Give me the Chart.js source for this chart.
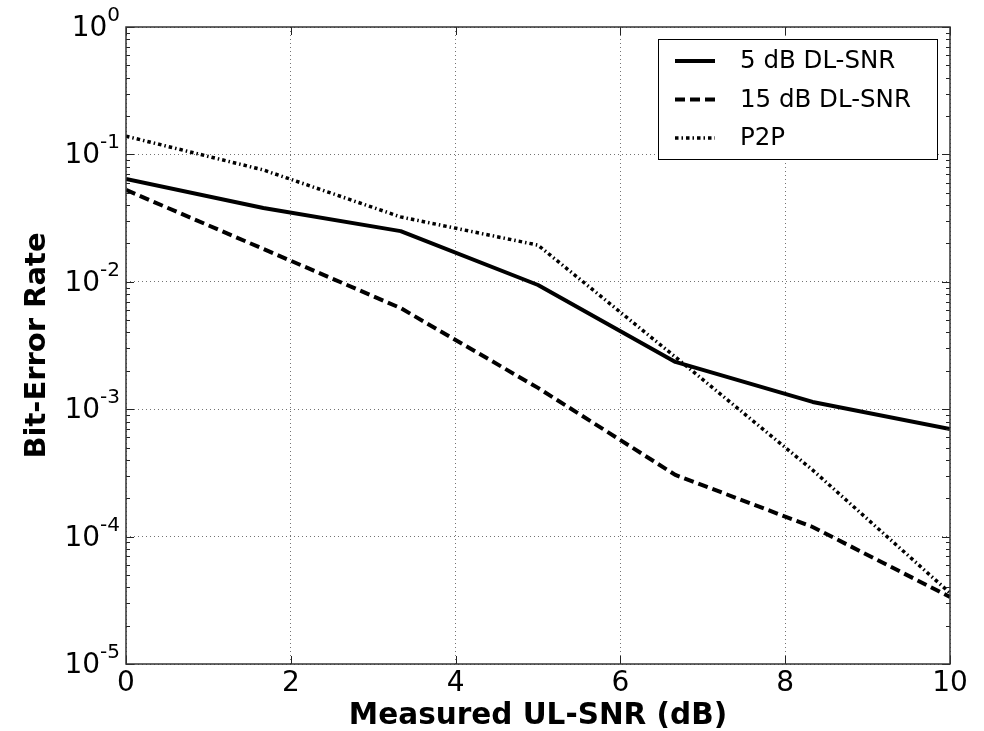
<!DOCTYPE html>
<html>
<head>
<meta charset="utf-8">
<script src="https://cdn.jsdelivr.net/npm/chart.js@4.4.0/dist/chart.umd.min.js"></script>
<style>
  html, body { margin: 0; padding: 0; background: #fff; }
  #wrap { width: 984px; height: 731px; }
</style>
</head>
<body>
<div id="wrap"><canvas id="chart"></canvas></div>
<script>
// Measured UL-SNR (dB) at each simulation point
const ulSnr = [0, 1.667, 3.333, 5, 6.667, 8.333, 10];

// Bit-error rate per curve
const ber5dB  = [0.0641, 0.0380, 0.0250, 0.00944, 0.00235, 0.00114, 0.00070];
const ber15dB = [0.0526, 0.0181, 0.00622, 0.00147, 0.000305, 0.000119, 0.0000336];
const berP2P  = [0.139, 0.0755, 0.0323, 0.0194, 0.00257, 0.000333, 0.0000361];

const seriesLabels = ['5 dB DL-SNR', '15 dB DL-SNR', 'P2P'];
const xTickValues = [0, 2, 4, 6, 8, 10];
const yDecades = [-5, -4, -3, -2, -1, 0];

const FONT = 'DejaVu Sans';

function toPoints(ys) {
  return ulSnr.map((x, i) => ({x: x, y: ys[i]}));
}

//Inner tick marks, axes frame and 10^n tick labels, matplotlib style
const framePlugin = {
  id: 'frame',
  afterDatasetsDraw(chart) {
    const {ctx, chartArea: a, scales} = chart;
    ctx.save();
    ctx.strokeStyle = '#222';
    ctx.lineWidth = 1;
    // y ticks (left and right)
    scales.y.ticks.forEach(t => {
      const py = Math.round(scales.y.getPixelForValue(t.value)) + 0.5;
      const len = t.major ? 8 : 4;
      ctx.beginPath();
      ctx.moveTo(a.left, py); ctx.lineTo(a.left + len, py);
      ctx.moveTo(a.right, py); ctx.lineTo(a.right - len, py);
      ctx.stroke();
    });
    // x ticks (bottom and top)
    scales.x.ticks.forEach(t => {
      const px = Math.round(scales.x.getPixelForValue(t.value)) + 0.5;
      ctx.beginPath();
      ctx.moveTo(px, a.bottom); ctx.lineTo(px, a.bottom - 8);
      ctx.moveTo(px, a.top); ctx.lineTo(px, a.top + 8);
      ctx.stroke();
    });
    ctx.strokeStyle = '#333';
    ctx.lineWidth = 1.5;
    ctx.strokeRect(a.left, a.top, a.right - a.left, a.bottom - a.top);

    // y labels: "10" with a raised exponent
    ctx.fillStyle = '#000';
    ctx.textBaseline = 'alphabetic';
    ctx.textAlign = 'right';
    scales.y.ticks.forEach(t => {
      if (!t.major) return;
      const py = scales.y.getPixelForValue(t.value);
      const exp = String(Math.round(Math.log10(t.value)));
      const xr = a.left - 6;
      ctx.font = '20px "' + FONT + '"';
      const ew = ctx.measureText(exp).width;
      ctx.fillText(exp, xr, py - 6);
      ctx.font = '28px "' + FONT + '"';
      ctx.fillText('10', xr - ew, py + 9);
    });
    ctx.restore();
  }
};

//Boxed legend in the upper right corner
const legendPlugin = {
  id: 'boxLegend',
  afterDraw(chart) {
    const {ctx, chartArea: a} = chart;
    const w = 279, h = 120;
    const x0 = a.right - 13 - w, y0 = a.top + 12;
    ctx.save();
    ctx.fillStyle = '#fff';
    ctx.fillRect(x0, y0, w, h);
    ctx.strokeStyle = '#000';
    ctx.lineWidth = 1;
    ctx.strokeRect(x0 + 0.5, y0 + 0.5, w, h);
    ctx.font = '24.5px "' + FONT + '"';
    ctx.textBaseline = 'middle';
    chart.data.datasets.forEach((ds, i) => {
      const cy = y0 + 22 + i * 38.5;
      ctx.beginPath();
      ctx.setLineDash(ds.borderDash || []);
      ctx.lineWidth = ds.borderWidth;
      ctx.strokeStyle = ds.borderColor;
      ctx.lineCap = 'butt';
      ctx.moveTo(x0 + 17, cy);
      ctx.lineTo(x0 + 57, cy);
      ctx.stroke();
      ctx.setLineDash([]);
      ctx.fillStyle = '#000';
      ctx.fillText(ds.label, x0 + 82, cy + 1);
    });
    ctx.restore();
  }
};

const gridColor = 'rgba(0,0,0,0.55)';

var chartData = {
  type: 'line',
  data: {
    datasets: [
      {label: seriesLabels[0], data: toPoints(ber5dB), borderColor: '#000', borderWidth: 4,
       borderDash: [], borderJoinStyle: 'round'},
      {label: seriesLabels[1], data: toPoints(ber15dB), borderColor: '#000', borderWidth: 4,
       borderDash: [10, 5]},
      {label: seriesLabels[2], data: toPoints(berP2P), borderColor: '#000', borderWidth: 3.5,
       borderDash: [3.5, 3, 1.5, 3]}
    ]
  },
  options: {
    responsive: true,
    maintainAspectRatio: false,
    animation: false,
    layout: {padding: {top: 27, right: 34, left: 0, bottom: 0}},
    elements: {point: {radius: 0, hoverRadius: 0}, line: {tension: 0, borderCapStyle: 'butt'}},
    datasets: {line: {clip: 0, fill: false}},
    plugins: {legend: {display: false}, tooltip: {enabled: false}},
    scales: {
      x: {
        type: 'linear', min: 0, max: 10,
        afterBuildTicks: s => { s.ticks = xTickValues.map(v => ({value: v})); },
        afterFit: s => { s.height = 67; },
        ticks: {font: {family: FONT, size: 28}, color: '#000', padding: 3, maxRotation: 0},
        grid: {color: gridColor, lineWidth: 1, drawTicks: false},
        border: {display: false, dash: [1, 3]},
        title: {display: true, text: 'Measured UL-SNR (dB)', color: '#000',
                font: {family: FONT, size: 29.5, weight: 'bold', lineHeight: 1.0}, padding: {top: 0, bottom: 0}}
      },
      y: {
        type: 'logarithmic', min: 1e-5, max: 1,
        afterBuildTicks: s => {
          const t = [];
          yDecades.forEach(e => {
            for (let m = 1; m <= 9; m++) {
              if (e === 0 && m > 1) break;
              t.push({value: m * Math.pow(10, e), major: m === 1});
            }
          });
          s.ticks = t;
        },
        afterFit: s => { s.width = 126; },
        ticks: {
          font: {family: FONT, size: 28}, color: '#000', padding: 6, autoSkip: false,
          callback: () => ''
        },
        grid: {
          color: c => (c.tick && c.tick.major) ? gridColor : 'rgba(0,0,0,0)',
          lineWidth: 1, drawTicks: false
        },
        border: {display: false, dash: [1, 3]},
        title: {display: true, text: 'Bit-Error Rate', color: '#000',
                font: {family: FONT, size: 29, weight: 'bold', lineHeight: 1.1}, padding: {top: 22}}
      }
    }
  },
  plugins: [framePlugin, legendPlugin]
};

var ctx = document.getElementById('chart');
var chart = new Chart(ctx, chartData);
</script>
</body>
</html>
